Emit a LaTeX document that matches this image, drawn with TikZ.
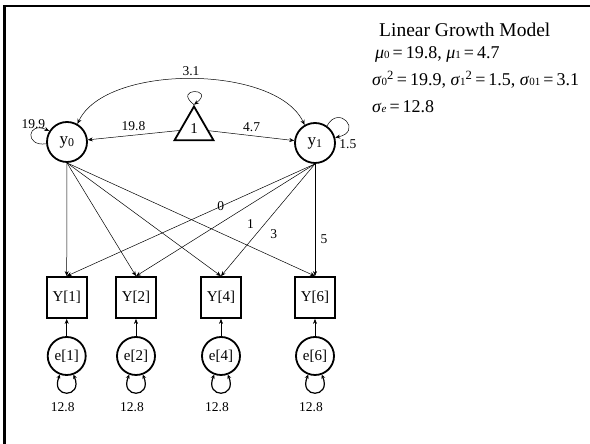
\documentclass[tikz,border=0pt]{standalone}
\usepackage{fontspec}
\setmainfont{Liberation Serif}
\usetikzlibrary{shapes.geometric,arrows.meta}

\newcommand\fs[1]{\fontsize{#1}{#1}\selectfont}
\newcommand\gsub[2]{\textit{#1}{\fs{11}#2}}

\tikzset{
  lat/.style={circle,draw,line width=1.8pt,minimum size=40pt,inner sep=0pt,font=\fs{17}},
  obs/.style={rectangle,draw,line width=1.8pt,minimum width=40pt,minimum height=41pt,inner sep=0pt,font=\fs{15}},
  err/.style={circle,draw,line width=1.8pt,minimum size=38pt,inner sep=0pt,font=\fs{15}},
  const/.style={regular polygon,regular polygon sides=3,draw,line width=1.8pt,minimum size=45pt,inner sep=0pt,font=\fs{15}},
  reg/.style={-{Stealth[length=5pt,width=4pt]},line width=0.5pt},
  cov/.style={{Stealth[length=5pt,width=4pt]}-{Stealth[length=5pt,width=4pt]},line width=0.5pt},
  vloop/.style={{Stealth[length=4pt,width=4pt]}-{Stealth[length=4pt,width=4pt]},line width=1.2pt},
  lbl/.style={font=\fs{13.5},inner sep=1pt},
  ttl/.style={font=\fs{19.5},inner sep=0pt,anchor=base west},
  eqn/.style={font=\fs{18},inner sep=0pt,anchor=base west}
}

\begin{document}
\begin{tikzpicture}[x=1pt,y=1pt]
\useasboundingbox (0,0) rectangle (590,444);
\draw[line width=2.5pt] (4.5,0) -- (4.5,438) -- (590,438);

\node[lat] (y0) at (67,302) {y\textsubscript{0}};
\node[lat] (y1) at (315,301) {y\textsubscript{1}};
\node[const] (one) at (194,315) {1};

\foreach \i/\x in {1/66.7,2/136,4/221,6/315}{
  \node[obs] (Y\i) at (\x,146.5) {Y[\i]};
  \node[err] (e\i) at (\x,88) {e[\i]};
  \draw[reg] (e\i) -- (Y\i);
  \draw[vloop] (e\i.250) .. controls +(-10,-24) and +(10,-24) .. node[lbl,below=8pt,xshift=-4pt]{12.8} (e\i.290);
  \draw[reg] (y0.south) -- (Y\i.north);
}

\draw[reg] (y1.south) -- node[lbl,pos=0.38]{0} (Y1.north);
\draw[reg] (y1.south) -- node[lbl,pos=0.41,shift={(9,-14)}]{1} (Y2.north);
\draw[reg] (y1.south) -- node[lbl,pos=0.55,shift={(10.5,-8.6)}]{3} (Y4.north);
\draw[reg] (y1.south) -- node[lbl,pos=0.675,shift={(9,0)}]{5} (Y6.north);

\draw[reg] (one) -- node[lbl,above=3pt]{19.8} (y0);
\draw[reg] (one) -- node[lbl,above=3pt]{4.7} (y1);
\draw[cov] (y0.60) to[out=65,in=115,looseness=0.75] node[lbl,above=2pt]{3.1} (y1.120);

\draw[reg] (y0.185) .. controls +(-22,-3) and +(-22,10) .. node[lbl,above=1pt,pos=0.65]{19.9} (y0.148);
\draw[reg] (y1.55) .. controls +(12,22) and +(28,6) .. node[lbl,pos=1,right=3pt,yshift=-7pt]{1.5} (y1.15);
\draw[reg] (one.corner 1) .. controls +(142:28) and +(38:28) .. (one.corner 1);

\node[ttl] (title) at (379,407) {Linear Growth Model};
\node[eqn] (means) at (375,385) {\gsub{μ}{0}\,=\,19.8, \gsub{μ}{1}\,=\,4.7};
\node[eqn] (vars) at (372,358) {\gsub{σ}{0}\textsuperscript{2}\,=\,19.9, \gsub{σ}{1}\textsuperscript{2}\,=\,1.5, \gsub{σ}{01}\,=\,3.1};
\node[eqn] (resid) at (372,331) {\gsub{σ}{\textit{e}}\,=\,12.8};
\end{tikzpicture}
\end{document}
